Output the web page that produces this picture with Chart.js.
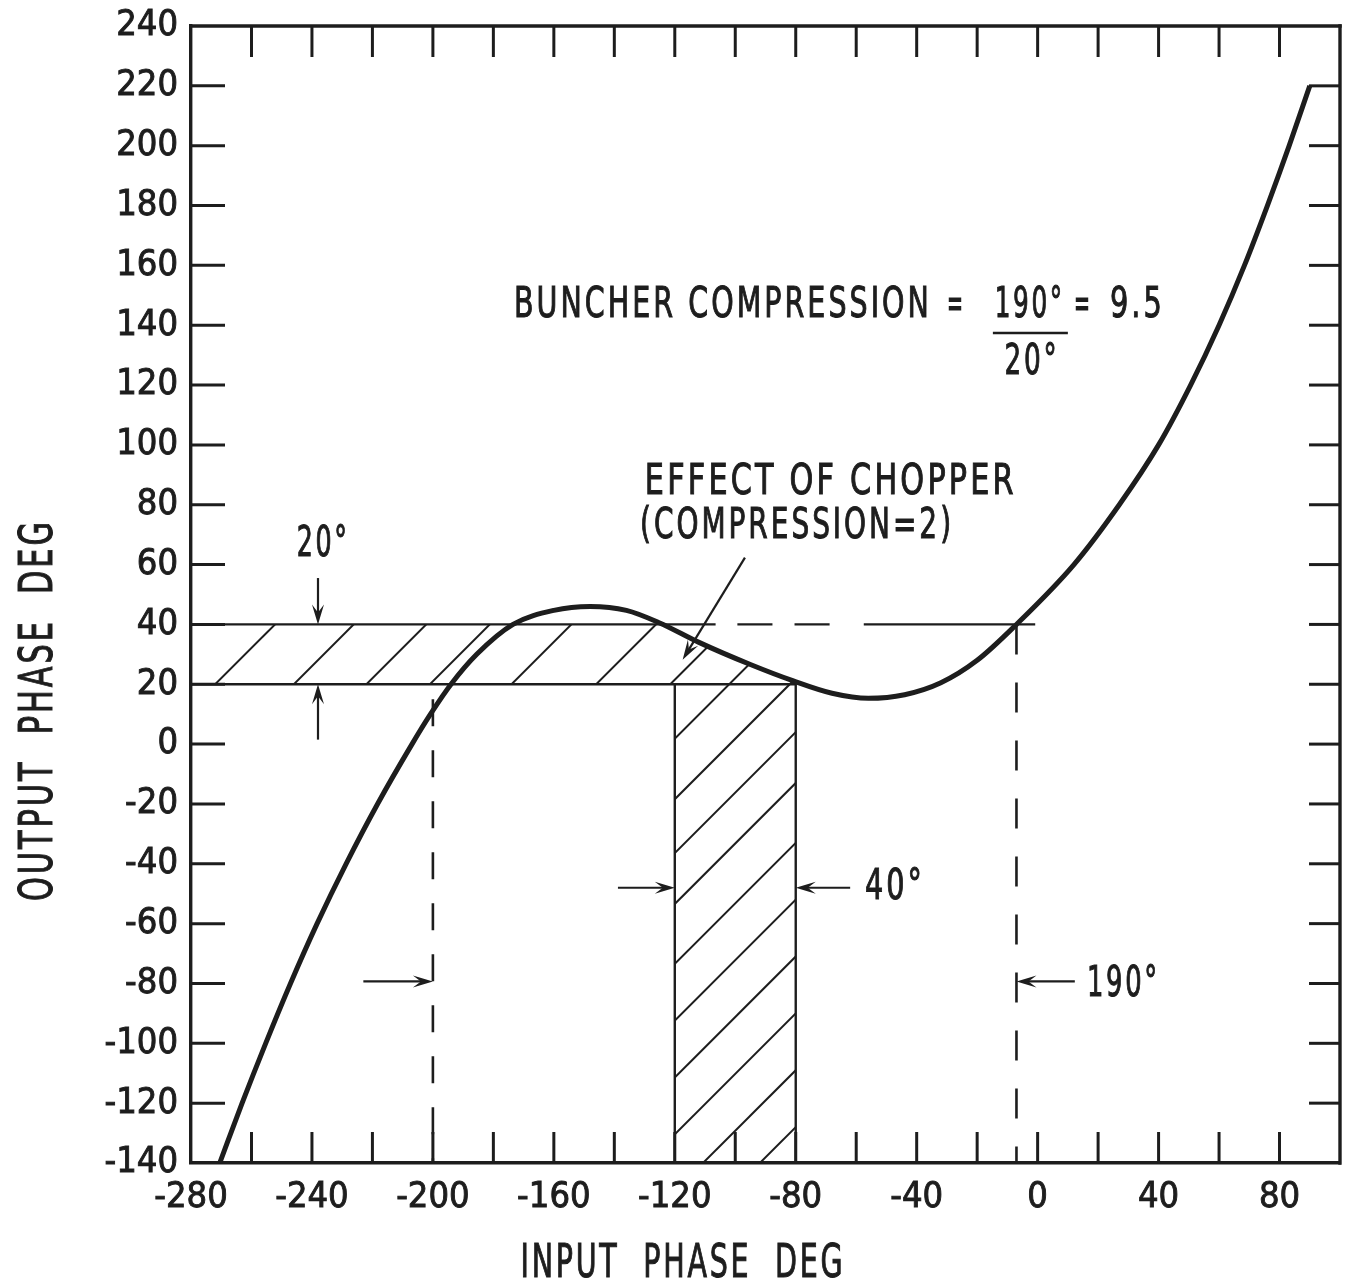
<!DOCTYPE html>
<html>
<head>
<meta charset="utf-8">
<title>Buncher phase compression</title>
<script src="https://cdn.jsdelivr.net/npm/chart.js@4.4.1/dist/chart.umd.min.js"></script>
<style>
  html, body { margin: 0; padding: 0; background: #fff; }
  #phase-chart { display: block; }
</style>
</head>
<body>
<canvas id="phase-chart" width="1355" height="1288"></canvas>
<script>
const INK = "#1d1d1d";
const FONT = "'DejaVu Sans Condensed', 'Liberation Sans Narrow', sans-serif";

// buncher curve: output phase vs input phase (deg)
const inputPhase = [-270.5, -263.1, -255.3, -247.1, -238.3, -228.7, -218.3, -206.9, -200.8, -194, -185.5, -173.5, -160, -148, -136, -125, -112, -95, -81, -68, -56, -44, -32, -20, -7, 12, 27, 40, 50.6, 60, 68.4, 76, 83.2, 90];
const outputPhase = [-140, -120, -100, -80, -60, -40, -20, 0, 10, 20, 30, 40, 44.7, 46, 44.7, 40.5, 34, 26.6, 21.2, 17, 15.3, 16.5, 20.5, 28, 40, 60, 80, 100, 120, 140, 160, 180, 200, 220];

// axis labels
const xLabelValues = [-280, -240, -200, -160, -120, -80, -40, 0, 40, 80];
const yLabelValues = [-140, -120, -100, -80, -60, -40, -20, 0, 20, 40, 60, 80, 100, 120, 140, 160, 180, 200, 220, 240];

// chopper window and the phase spreads marked on the plot
const bandLevels = [20, 40];        // output phase window (20 deg)
const columnEdges = [-120, -80];    // input window after chopper (40 deg)
const spreadMarkers = [-200, -7];   // input spread feeding the window (190 deg)

// where the hatch strokes cross y=20 (band) and x=-80 (column)
const bandHatchX = [-272, -246, -222, -201, -174, -146, -121.5, -102];
const columnHatchY = [22, 4, -13, -33, -52, -71, -90, -109, -128];

function curveAt(x) {
  for (let i = 0; i < inputPhase.length - 1; i++) {
    if (x >= inputPhase[i] && x <= inputPhase[i + 1]) {
      const t = (x - inputPhase[i]) / (inputPhase[i + 1] - inputPhase[i]);
      return outputPhase[i] + t * (outputPhase[i + 1] - outputPhase[i]);
    }
  }
  return NaN;
}

// first place after the hump where the curve drops through level
function fallingCrossing(level) {
  const peak = outputPhase.indexOf(Math.max(...outputPhase.slice(0, 20)));
  for (let i = peak; i < inputPhase.length - 1; i++) {
    const a = outputPhase[i], b = outputPhase[i + 1];
    if (a >= level && b < level) {
      return inputPhase[i] + (a - level) / (a - b) * (inputPhase[i + 1] - inputPhase[i]);
    }
  }
  return NaN;
}

function seg(ctx, x1, y1, x2, y2) {
  ctx.beginPath();
  ctx.moveTo(x1, y1);
  ctx.lineTo(x2, y2);
  ctx.stroke();
}

function arrow(ctx, x1, y1, x2, y2) {
  const a = Math.atan2(y2 - y1, x2 - x1);
  const len = 20, half = 6;
  const c = Math.cos(a), s = Math.sin(a);
  seg(ctx, x1, y1, x2 - c * 8, y2 - s * 8);
  ctx.beginPath();
  ctx.moveTo(x2, y2);
  ctx.lineTo(x2 - len * c + half * s, y2 - len * s - half * c);
  ctx.lineTo(x2 - 0.6 * len * c, y2 - 0.6 * len * s);
  ctx.lineTo(x2 - len * c - half * s, y2 - len * s + half * c);
  ctx.closePath();
  ctx.fill();
}

// lettering squeezed to a given width, like the narrow drafting hand
function text(ctx, str, x, y, size, width, align) {
  ctx.font = size + "px " + FONT;
  ctx.letterSpacing = "4px";
  ctx.textAlign = "left";
  ctx.textBaseline = "middle";
  const w = ctx.measureText(str).width;
  const k = width ? width / w : 1;
  let x0 = x;
  if (align === "center") x0 = x - w * k / 2;
  else if (align === "right") x0 = x - w * k;
  ctx.save();
  ctx.translate(x0, y);
  ctx.scale(k, 1);
  ctx.lineWidth = 1;
  ctx.strokeText(str, 0, 0);
  ctx.fillText(str, 0, 0);
  ctx.restore();
  ctx.letterSpacing = "0px";
}

const phaseNotes = {
  id: "phaseNotes",
  beforeDatasetsDraw(chart) {
    const ctx = chart.ctx;
    const X = v => chart.scales.x.getPixelForValue(v);
    const Y = v => chart.scales.y.getPixelForValue(v);
    const [lo, hi] = bandLevels;
    const [colL, colR] = columnEdges;
    const xMin = chart.scales.x.min, yMin = chart.scales.y.min;
    const xTop = fallingCrossing(hi);

    ctx.save();
    ctx.strokeStyle = INK;
    ctx.fillStyle = INK;

    // hatched area: 20..40 band up to the curve, plus the chopper column
    const region = new Path2D();
    region.moveTo(X(xMin), Y(lo));
    region.lineTo(X(xMin), Y(hi));
    region.lineTo(X(xTop), Y(hi));
    inputPhase.forEach((x, i) => {
      if (x > xTop && x < colR) region.lineTo(X(x), Y(outputPhase[i]));
    });
    region.lineTo(X(colR), Y(curveAt(colR)));
    region.lineTo(X(colR), Y(yMin));
    region.lineTo(X(colL), Y(yMin));
    region.lineTo(X(colL), Y(lo));
    region.closePath();

    ctx.save();
    ctx.clip(region);
    ctx.lineWidth = 2;
    const L = 700;
    bandHatchX.forEach(x => {
      const px = X(x), py = Y(lo);
      seg(ctx, px - L, py + L, px + L, py - L);
    });
    columnHatchY.forEach(y => {
      const px = X(colR), py = Y(y);
      seg(ctx, px - L, py + L, px + L, py - L);
    });
    ctx.restore();

    // band and column outlines
    ctx.lineWidth = 2.4;
    [[xMin, -106.5], [-99.3, -87.7], [-80.4, -68.8], [-57.5, -0.8]].forEach(([a, b]) => {
      seg(ctx, X(a), Y(hi), X(b), Y(hi));
    });
    seg(ctx, X(xMin), Y(lo), X(colR), Y(lo));
    seg(ctx, X(colL), Y(lo), X(colL), Y(yMin));
    seg(ctx, X(colR), Y(curveAt(colR)), X(colR), Y(yMin));

    // dashed drop lines at the ends of the 190 deg spread
    ctx.lineWidth = 2.6;
    ctx.setLineDash([27, 24]);
    seg(ctx, X(spreadMarkers[0]), Y(15), X(spreadMarkers[0]), Y(yMin));
    ctx.setLineDash([30, 28]);
    seg(ctx, X(spreadMarkers[1]), Y(hi), X(spreadMarkers[1]), Y(yMin));
    ctx.setLineDash([]);
    ctx.restore();
  },
  afterDatasetsDraw(chart) {
    const ctx = chart.ctx;
    const X = v => chart.scales.x.getPixelForValue(v);
    const Y = v => chart.scales.y.getPixelForValue(v);
    const [lo, hi] = bandLevels;
    const [colL, colR] = columnEdges;

    ctx.save();
    ctx.strokeStyle = INK;
    ctx.fillStyle = INK;
    ctx.lineWidth = 2.2;

    // 20 deg window arrows
    arrow(ctx, X(-238), Y(55.5), X(-238), Y(hi));
    arrow(ctx, X(-238), Y(1.5), X(-238), Y(lo));
    text(ctx, "20°", X(-236.3), Y(66.5), 42, 53, "center");

    // 40 deg column arrows
    arrow(ctx, X(-138.8), Y(-48), X(colL), Y(-48));
    arrow(ctx, X(-62), Y(-48), X(colR), Y(-48));
    text(ctx, "40°", X(-57.1), Y(-48.1), 42, 60);

    // 190 deg spread arrows
    arrow(ctx, X(-223), Y(-79.3), X(spreadMarkers[0]), Y(-79.3));
    arrow(ctx, X(12.3), Y(-79.3), X(spreadMarkers[1]), Y(-79.3));
    text(ctx, "190°", X(16.3), Y(-80.5), 42, 73);

    // chopper note with leader
    text(ctx, "EFFECT OF CHOPPER", X(-129.9), Y(87.3), 42, 372);
    text(ctx, "(COMPRESSION=2)", X(-131.5), Y(72.6), 42, 314);
    ctx.lineWidth = 2.2;
    arrow(ctx, X(-96.8), Y(62.3), X(-117.4), Y(28.2));

    // buncher compression ratio
    text(ctx, "BUNCHER COMPRESSION", X(-173.2), Y(146.4), 42, 418);
    text(ctx, "=", X(-27), Y(146.4), 42, 18, "center");
    text(ctx, "190°", X(-2.6), Y(146.4), 42, 70, "center");
    ctx.lineWidth = 2.6;
    seg(ctx, X(-14.8), Y(137.4), X(10), Y(137.4));
    text(ctx, "20°", X(-1.9), Y(127.4), 42, 55, "center");
    text(ctx, "=", X(15), Y(146.4), 42, 18, "center");
    text(ctx, "9.5", X(23.9), Y(146.4), 42, 55);
    ctx.restore();
  },
  afterDraw(chart) {
    const ctx = chart.ctx;
    const xs = chart.scales.x, ys = chart.scales.y;
    const {left, right, top, bottom} = chart.chartArea;

    ctx.save();
    ctx.strokeStyle = INK;
    ctx.fillStyle = INK;
    ctx.lineCap = "square";
    ctx.lineWidth = 3.4;
    seg(ctx, left, top, right, top);
    seg(ctx, right, top, right, bottom);

    // inward ticks on all four sides
    ctx.lineCap = "butt";
    ctx.lineWidth = 3;
    xs.ticks.forEach(t => {
      if (t.value <= xs.min || t.value >= xs.max) return;
      const p = xs.getPixelForValue(t.value);
      seg(ctx, p, bottom, p, bottom - 31);
      seg(ctx, p, top, p, top + 31);
    });
    ys.ticks.forEach(t => {
      if (t.value <= ys.min || t.value >= ys.max) return;
      const p = ys.getPixelForValue(t.value);
      seg(ctx, left, p, left + 34, p);
      seg(ctx, right, p, right - 31, p);
    });

    // axis titles
    text(ctx, "INPUT  PHASE  DEG", xs.getPixelForValue(-117.3), bottom + 102, 46, 325, "center");
    ctx.translate(40, ys.getPixelForValue(11.4));
    ctx.rotate(-Math.PI / 2);
    text(ctx, "OUTPUT  PHASE  DEG", 0, 0, 46, 382, "center");
    ctx.restore();
  }
};

const tickFont = { family: FONT, size: 36 };

new Chart(document.getElementById("phase-chart").getContext("2d"), {
  type: "line",
  data: {
    datasets: [{
      data: inputPhase.map((x, i) => ({ x: x, y: outputPhase[i] })),
      borderColor: INK,
      borderWidth: 5,
      pointRadius: 0,
      fill: false,
      cubicInterpolationMode: "monotone"
    }]
  },
  options: {
    responsive: false,
    animation: false,
    devicePixelRatio: 1,
    layout: { padding: { top: 26, right: 15, left: 0, bottom: 0 } },
    plugins: { legend: { display: false }, tooltip: { enabled: false } },
    scales: {
      x: {
        type: "linear",
        min: -280,
        max: 100,
        afterFit: s => { s.height = 125; s.paddingLeft = 0; s.paddingRight = 0; },
        grid: { display: true, drawOnChartArea: false, drawTicks: false },
        border: { display: true, color: INK, width: 3.4 },
        ticks: {
          stepSize: 20,
          autoSkip: false,
          maxRotation: 0,
          padding: 13,
          color: INK,
          textStrokeColor: INK,
          textStrokeWidth: 0.9,
          font: tickFont,
          callback: v => xLabelValues.includes(v) ? String(v) : ""
        }
      },
      y: {
        type: "linear",
        min: -140,
        max: 240,
        afterFit: s => { s.width = 191; s.paddingTop = 0; s.paddingBottom = 0; },
        grid: { display: true, drawOnChartArea: false, drawTicks: false },
        border: { display: true, color: INK, width: 3.4 },
        ticks: {
          stepSize: 20,
          autoSkip: false,
          padding: 13,
          color: INK,
          textStrokeColor: INK,
          textStrokeWidth: 0.9,
          font: tickFont,
          callback: v => yLabelValues.includes(v) ? String(v) : ""
        }
      }
    }
  },
  plugins: [phaseNotes]
});
</script>
</body>
</html>
